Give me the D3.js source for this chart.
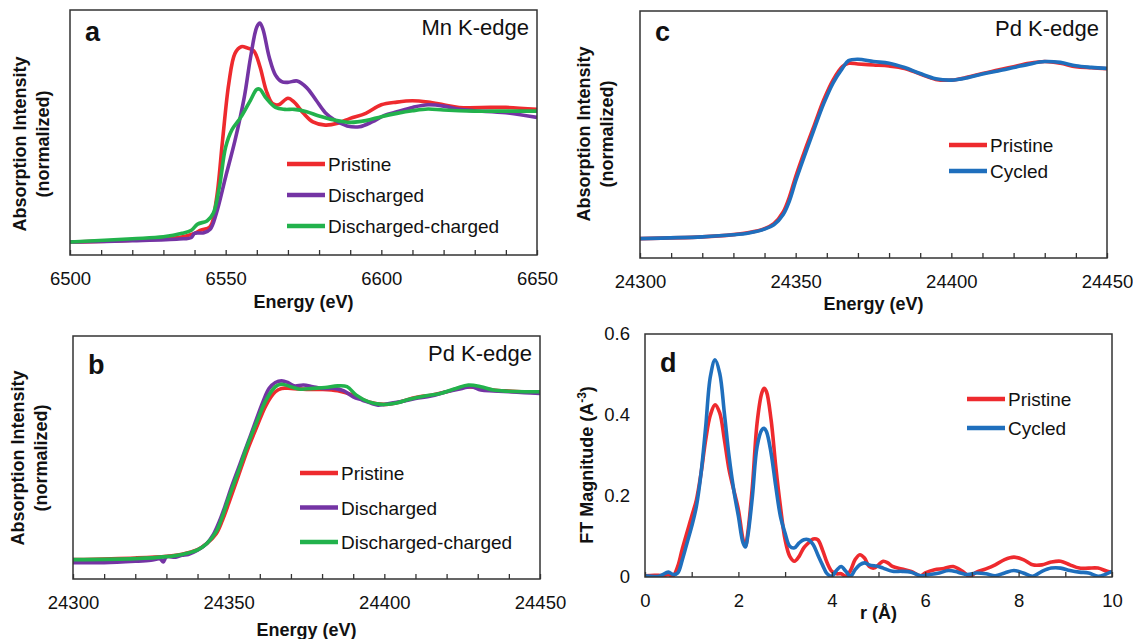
<!doctype html>
<html>
<head>
<meta charset="utf-8">
<title>XANES / EXAFS panels</title>
<script src="https://cdnjs.cloudflare.com/ajax/libs/d3/7.8.5/d3.min.js"></script>
<style>
  body { margin: 0; background: #fff; }
  svg text { font-family: "Liberation Sans", Arial, sans-serif; fill: #111; }
</style>
</head>
<body>
<div id="chart"></div>
<script>
// ---- data: [x, y] ----
// panel a, Mn K-edge (energy eV, normalized absorption)
const mnPristine = [[6500,0.0],[6520,0.015],[6535,0.035],[6540,0.066],[6542,0.09],[6545,0.116],[6547,0.32],[6549,0.77],[6551,1.2],[6553,1.43],[6555,1.48],[6557,1.47],[6559,1.45],[6561,1.33],[6563,1.15],[6565,1.05],[6567,1.04],[6570,1.09],[6572,1.06],[6575,0.975],[6578,0.91],[6582,0.886],[6586,0.9],[6590,0.937],[6595,0.975],[6600,1.04],[6605,1.06],[6610,1.07],[6615,1.06],[6620,1.04],[6625,1.02],[6635,1.02],[6640,1.02],[6650,1.005]];
const mnDischarged = [[6500,0.0],[6520,0.01],[6535,0.023],[6539,0.035],[6540,0.066],[6543,0.07],[6545,0.096],[6547,0.217],[6550,0.495],[6553,0.77],[6556,1.1],[6558,1.4],[6560,1.63],[6561,1.66],[6562,1.61],[6564,1.4],[6566,1.265],[6568,1.215],[6570,1.21],[6573,1.22],[6576,1.17],[6579,1.076],[6582,0.98],[6585,0.924],[6589,0.88],[6593,0.874],[6597,0.91],[6601,0.96],[6605,0.987],[6610,1.02],[6615,1.04],[6620,1.03],[6625,1.005],[6630,0.995],[6640,0.98],[6650,0.944]];
const mnDisCharged = [[6500,0.0],[6520,0.025],[6530,0.04],[6536,0.066],[6539,0.09],[6541,0.136],[6544,0.16],[6546,0.217],[6548,0.42],[6550,0.72],[6552,0.85],[6555,0.95],[6558,1.076],[6560,1.157],[6561,1.157],[6563,1.09],[6566,1.02],[6569,1.005],[6572,1.005],[6576,0.987],[6580,0.955],[6585,0.924],[6590,0.907],[6595,0.92],[6600,0.95],[6605,0.975],[6610,0.995],[6615,1.008],[6620,1.0],[6630,0.992],[6640,0.992],[6650,0.992]];

// panel b, Pd K-edge
const pdbPristine = [[24300,0.004],[24320,0.014],[24330,0.024],[24335,0.036],[24340,0.063],[24343,0.1],[24346,0.158],[24348,0.238],[24350,0.337],[24353,0.495],[24356,0.653],[24359,0.79],[24362,0.92],[24365,1.0],[24367,1.02],[24370,1.02],[24375,1.014],[24380,1.014],[24385,1.006],[24390,0.98],[24395,0.94],[24400,0.925],[24405,0.94],[24410,0.966],[24415,0.98],[24420,1.0],[24425,1.026],[24430,1.026],[24435,1.01],[24440,1.004],[24445,1.0],[24450,0.994]];
const pdbDischarged = [[24300,-0.014],[24310,-0.014],[24320,-0.006],[24325,0.0],[24328,0.008],[24329,-0.01],[24330,0.02],[24333,0.018],[24335,0.03],[24337,0.035],[24340,0.06],[24343,0.1],[24345,0.15],[24347,0.23],[24349,0.33],[24351,0.44],[24353,0.54],[24355,0.64],[24358,0.79],[24361,0.94],[24363,1.02],[24365,1.055],[24367,1.065],[24369,1.055],[24371,1.035],[24374,1.04],[24377,1.03],[24380,1.02],[24384,1.02],[24387,1.005],[24390,0.97],[24393,0.95],[24396,0.93],[24398,0.92],[24400,0.925],[24405,0.94],[24410,0.96],[24415,0.975],[24420,1.0],[24425,1.02],[24428,1.03],[24431,1.01],[24435,1.005],[24440,1.0],[24445,0.995],[24450,0.99]];
const pdbDisCharged = [[24300,0.004],[24320,0.01],[24330,0.022],[24335,0.035],[24340,0.062],[24343,0.1],[24346,0.17],[24348,0.26],[24350,0.37],[24353,0.52],[24356,0.68],[24359,0.82],[24362,0.95],[24365,1.03],[24367,1.045],[24370,1.03],[24373,1.015],[24377,1.02],[24381,1.025],[24385,1.035],[24388,1.03],[24391,0.98],[24395,0.94],[24399,0.925],[24403,0.93],[24408,0.955],[24413,0.975],[24418,0.99],[24423,1.02],[24427,1.04],[24431,1.03],[24435,1.01],[24440,1.003],[24445,1.0],[24450,1.0]];

// panel c, Pd K-edge
const pdcPristine = [[24300,0.0],[24320,0.01],[24330,0.023],[24335,0.035],[24340,0.058],[24343,0.087],[24346,0.155],[24348,0.243],[24350,0.36],[24353,0.515],[24356,0.66],[24359,0.806],[24362,0.922],[24365,1.0],[24367,1.02],[24370,1.016],[24375,1.01],[24380,1.004],[24385,0.99],[24390,0.957],[24395,0.926],[24400,0.922],[24405,0.938],[24410,0.961],[24415,0.98],[24420,1.0],[24425,1.02],[24430,1.03],[24435,1.02],[24440,1.0],[24445,0.994],[24450,0.988]];
const pdcCycled = [[24300,0.0],[24320,0.01],[24330,0.022],[24335,0.033],[24340,0.055],[24343,0.08],[24346,0.14],[24348,0.22],[24350,0.335],[24353,0.49],[24356,0.64],[24359,0.785],[24362,0.905],[24365,0.99],[24367,1.035],[24370,1.043],[24375,1.03],[24380,1.02],[24385,0.995],[24390,0.96],[24395,0.93],[24400,0.922],[24405,0.935],[24410,0.958],[24415,0.975],[24420,0.995],[24425,1.015],[24430,1.03],[24435,1.025],[24440,1.005],[24445,0.996],[24450,0.99]];

// panel d, FT magnitude vs r (Å)
const ftPristine = [[0,0.003],[0.2,0.004],[0.4,0.004],[0.5,0.006],[0.6,0.003],[0.7,0.026],[0.8,0.07],[1.0,0.15],[1.1,0.19],[1.2,0.256],[1.3,0.339],[1.4,0.4],[1.5,0.425],[1.6,0.405],[1.7,0.339],[1.8,0.265],[1.9,0.215],[2.0,0.166],[2.1,0.092],[2.15,0.076],[2.2,0.108],[2.3,0.224],[2.4,0.38],[2.5,0.454],[2.55,0.466],[2.6,0.458],[2.7,0.388],[2.8,0.273],[2.9,0.174],[3.0,0.092],[3.1,0.051],[3.2,0.039],[3.3,0.051],[3.4,0.072],[3.5,0.084],[3.6,0.094],[3.7,0.092],[3.8,0.067],[3.9,0.035],[4.0,0.014],[4.1,0.008],[4.2,0.008],[4.3,0.002],[4.4,0.016],[4.5,0.043],[4.6,0.055],[4.7,0.047],[4.8,0.026],[4.9,0.022],[5.0,0.03],[5.1,0.039],[5.2,0.035],[5.3,0.026],[5.5,0.02],[5.7,0.014],[5.9,0.003],[6.0,0.01],[6.2,0.018],[6.4,0.021],[6.6,0.026],[6.8,0.014],[6.95,0.002],[7.1,0.012],[7.3,0.02],[7.5,0.03],[7.7,0.043],[7.9,0.049],[8.1,0.043],[8.3,0.03],[8.5,0.03],[8.7,0.037],[8.9,0.039],[9.1,0.03],[9.3,0.022],[9.5,0.022],[9.7,0.022],[9.9,0.014],[10,0.012]];
const ftCycled = [[0,0.003],[0.3,0.002],[0.5,0.012],[0.6,0.006],[0.7,0.01],[0.8,0.043],[0.9,0.084],[1.0,0.125],[1.1,0.174],[1.2,0.256],[1.3,0.371],[1.4,0.495],[1.5,0.536],[1.6,0.503],[1.7,0.404],[1.8,0.298],[1.9,0.215],[2.0,0.15],[2.1,0.084],[2.15,0.074],[2.2,0.1],[2.3,0.199],[2.4,0.322],[2.5,0.363],[2.55,0.367],[2.6,0.359],[2.7,0.306],[2.8,0.224],[2.9,0.15],[3.0,0.108],[3.1,0.076],[3.2,0.072],[3.3,0.084],[3.4,0.092],[3.5,0.092],[3.6,0.08],[3.7,0.055],[3.8,0.03],[3.9,0.008],[4.0,0.002],[4.1,0.016],[4.2,0.026],[4.3,0.014],[4.4,0.002],[4.5,0.018],[4.6,0.03],[4.7,0.035],[4.8,0.03],[5.0,0.026],[5.1,0.022],[5.3,0.014],[5.5,0.014],[5.7,0.012],[5.9,0.003],[6.1,0.006],[6.3,0.01],[6.5,0.016],[6.7,0.012],[6.9,0.006],[7.1,0.01],[7.3,0.008],[7.5,0.003],[7.7,0.01],[7.9,0.016],[8.1,0.01],[8.3,0.002],[8.5,0.014],[8.7,0.022],[8.9,0.022],[9.1,0.016],[9.3,0.012],[9.5,0.01],[9.7,0.002],[9.85,0.006],[10,0.014]];

// tick labels
const energyTicksMn = [6500, 6550, 6600, 6650];
const energyTicksPd = [24300, 24350, 24400, 24450];
const rTicks = [0, 2, 4, 6, 8, 10];
const ftTicks = [0, 0.2, 0.4, 0.6];

const RED = '#ee2a2e', PURPLE = '#7434a4', GREEN = '#22b24c', BLUE = '#1f6fbd';

const svg = d3.select('#chart').append('svg')
  .attr('width', 1133).attr('height', 639);

// one panel
function panel(o) {
  const x = d3.scaleLinear().domain(o.xDomain).range([o.x0, o.x1]);
  const y = d3.scaleLinear().domain(o.yDomain).range([o.y1, o.y0]);
  const g = svg.append('g');

  const clipId = 'clip-' + o.id;
  g.append('clipPath').attr('id', clipId)
    .append('rect').attr('x', o.x0).attr('y', o.y0)
    .attr('width', o.x1 - o.x0).attr('height', o.y1 - o.y0);

  const line = d3.line()
    .x(d => x(d[0])).y(d => y(d[1]))
    .curve(d3.curveCatmullRom.alpha(0.5));

  g.append('g').attr('clip-path', `url(#${clipId})`)
    .selectAll('path').data(o.series).join('path')
    .attr('d', s => line(s.values))
    .attr('fill', 'none')
    .attr('stroke', s => s.color)
    .attr('stroke-width', 3.6)
    .attr('stroke-linejoin', 'round');

  // x axis with inward ticks
  const axis = d3.axisBottom(x)
    .tickValues(d3.range(o.xDomain[0], o.xDomain[1] + o.minor / 2, o.minor))
    .tickSize(-5).tickPadding(17)
    .tickFormat(v => o.labels.some(l => Math.abs(l - v) < 1e-9) ? d3.format('')(v) : '');
  const ax = g.append('g').attr('transform', `translate(0,${o.y1})`).call(axis);
  ax.select('.domain').remove();
  ax.selectAll('line').attr('stroke', '#333').attr('stroke-width', 1.3);
  ax.selectAll('text').attr('font-size', 18.5).attr('fill', '#111')
    .attr('font-family', '"Liberation Sans", Arial, sans-serif');

  // frame
  g.append('rect').attr('x', o.x0).attr('y', o.y0)
    .attr('width', o.x1 - o.x0).attr('height', o.y1 - o.y0)
    .attr('fill', 'none').attr('stroke', '#333').attr('stroke-width', 1.5);

  // x title
  g.append('text').attr('x', (o.x0 + o.x1) / 2).attr('y', o.xTitleY)
    .attr('text-anchor', 'middle').attr('font-size', 18).attr('font-weight', 'bold')
    .text(o.xTitle);

  // panel letter
  g.append('text').attr('x', o.x0 + 15).attr('y', o.letterY)
    .attr('font-size', 27).attr('font-weight', 'bold').text(o.letter);

  // edge label
  if (o.edge) {
    g.append('text').attr('x', o.x1 - 8).attr('y', o.y0 + 25)
      .attr('text-anchor', 'end').attr('font-size', 22).text(o.edge);
  }

  // legend
  const leg = g.selectAll('.leg').data(o.series).join('g')
    .attr('transform', (s, i) => `translate(${o.legX},${o.legY + i * o.legStep})`);
  leg.append('line').attr('x1', 0).attr('x2', 38)
    .attr('stroke', s => s.color).attr('stroke-width', 4.5);
  leg.append('text').attr('x', 41).attr('y', 7)
    .attr('font-size', 19).text(s => s.name);

  return { x, y, g };
}

function twoLineYTitle(cx, cy) {
  const t = svg.append('g').attr('transform', `translate(${cx},${cy}) rotate(-90)`);
  t.append('text').attr('text-anchor', 'middle').attr('font-size', 18)
    .attr('font-weight', 'bold').attr('y', 0).text('Absorption Intensity');
  t.append('text').attr('text-anchor', 'middle').attr('font-size', 18)
    .attr('font-weight', 'bold').attr('y', 23).text('(normalized)');
}

// a
panel({
  id: 'a', letter: 'a', edge: 'Mn K-edge',
  x0: 70, x1: 537, y0: 10, y1: 255,
  xDomain: [6500, 6650], yDomain: [-0.098, 1.758], minor: 10, labels: energyTicksMn,
  xTitle: 'Energy (eV)', xTitleY: 308, letterY: 41,
  legX: 287, legY: 164, legStep: 31,
  series: [
    { name: 'Pristine', color: RED, values: mnPristine },
    { name: 'Discharged', color: PURPLE, values: mnDischarged },
    { name: 'Discharged-charged', color: GREEN, values: mnDisCharged }
  ]
});
twoLineYTitle(26, 144);

// b
panel({
  id: 'b', letter: 'b', edge: 'Pd K-edge',
  x0: 73, x1: 540, y0: 336, y1: 579,
  xDomain: [24300, 24450], yDomain: [-0.111, 1.331], minor: 10, labels: energyTicksPd,
  xTitle: 'Energy (eV)', xTitleY: 636, letterY: 374,
  legX: 300, legY: 473, legStep: 34.5,
  series: [
    { name: 'Pristine', color: RED, values: pdbPristine },
    { name: 'Discharged', color: PURPLE, values: pdbDischarged },
    { name: 'Discharged-charged', color: GREEN, values: pdbDisCharged }
  ]
});
twoLineYTitle(24, 458);

// c
panel({
  id: 'c', letter: 'c', edge: 'Pd K-edge',
  x0: 640, x1: 1107, y0: 11, y1: 258,
  xDomain: [24300, 24450], yDomain: [-0.113, 1.324], minor: 10, labels: energyTicksPd,
  xTitle: 'Energy (eV)', xTitleY: 310, letterY: 41,
  legX: 949, legY: 145, legStep: 26,
  series: [
    { name: 'Pristine', color: RED, values: pdcPristine },
    { name: 'Cycled', color: BLUE, values: pdcCycled }
  ]
});
twoLineYTitle(590, 134);

// d
const pd = panel({
  id: 'd', letter: 'd', edge: null,
  x0: 645, x1: 1112, y0: 334, y1: 577,
  xDomain: [0, 10], yDomain: [0, 0.6], minor: 1, labels: rTicks,
  xTitle: 'r (Å)', xTitleY: 619, letterY: 372,
  legX: 967, legY: 399, legStep: 29,
  series: [
    { name: 'Pristine', color: RED, values: ftPristine },
    { name: 'Cycled', color: BLUE, values: ftCycled }
  ]
});
const yAx = d3.axisLeft(pd.y).tickValues(ftTicks).tickSize(0).tickPadding(15)
  .tickFormat(d => d === 0 ? '0' : d3.format('.1f')(d));
const yg = svg.append('g').attr('transform', 'translate(645,0)').call(yAx);
yg.select('.domain').remove();
yg.selectAll('text').attr('font-size', 18.5).attr('fill', '#111')
  .attr('font-family', '"Liberation Sans", Arial, sans-serif');

const ft = svg.append('text').attr('transform', 'translate(593,465) rotate(-90)')
  .attr('text-anchor', 'middle').attr('font-size', 18).attr('font-weight', 'bold');
ft.append('tspan').text('FT Magnitude (A');
ft.append('tspan').attr('font-size', 12).attr('dy', -7).text('-3');
ft.append('tspan').attr('dy', 7).text(')');
</script>
</body>
</html>
